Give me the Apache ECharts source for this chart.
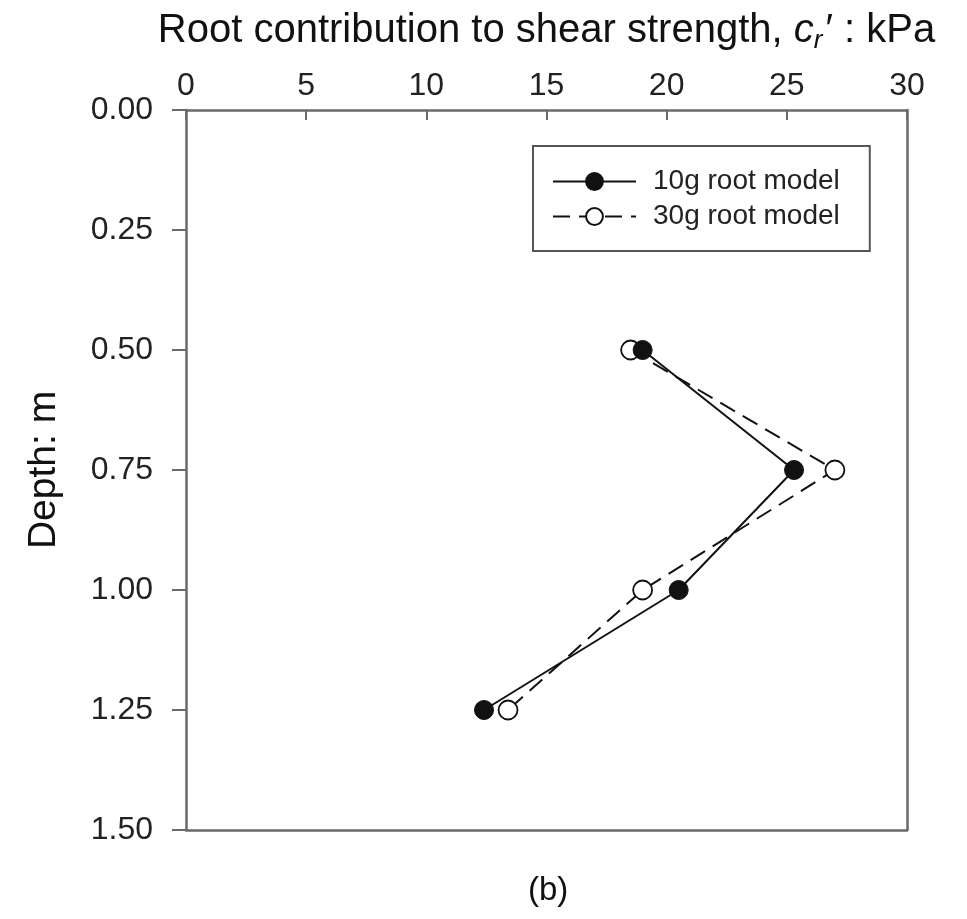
<!DOCTYPE html>
<html>
<head>
<meta charset="utf-8">
<script src="https://cdn.jsdelivr.net/npm/echarts@6/dist/echarts.min.js"></script>
<style>
  html, body { margin: 0; padding: 0; background: #fff; }
  #chart { width: 967px; height: 919px; }
</style>
</head>
<body>
<div id="chart"></div>
<script>
// Depth of each measurement (m)
const depths = [0.50, 0.75, 1.00, 1.25];
// Root contribution to shear strength c_r' (kPa) for each root model
const root10g = [19.0, 25.3, 20.5, 12.4];
const root30g = [18.5, 27.0, 19.0, 13.4];
const seriesNames = ['10g root model', '30g root model'];

const FONT = '"Liberation Sans", Arial, Helvetica, sans-serif';
const AXIS_GREY = '#6a6a6a';
const INK = '#111';

function pairs(xs) {
  return xs.map((x, i) => [x, depths[i]]);
}

const chart = echarts.init(document.getElementById('chart'), null, { renderer: 'canvas' });

// Plain frame lines for the bottom and right sides of the plot box
const frameAxis = {
  axisLabel: { show: false },
  axisTick: { show: false },
  splitLine: { show: false },
  axisLine: { show: true, onZero: false, lineStyle: { color: AXIS_GREY, width: 2.5 } }
};

chart.setOption({
  animation: false,
  backgroundColor: '#fff',
  textStyle: { fontFamily: FONT },
  grid: { left: 186, top: 110, right: 60, bottom: 89, containLabel: false },
  xAxis: [
    {
      type: 'value',
      position: 'top',
      min: 0, max: 30, interval: 5,
      name: '{t|Root contribution to shear strength, }{i|c}{s|r}{t|\u2032 : kPa}',
      nameLocation: 'middle',
      nameGap: 56,
      nameTextStyle: {
        rich: {
          t: { fontFamily: FONT, fontSize: 40, color: INK, lineHeight: 46 },
          i: { fontFamily: FONT, fontSize: 40, fontStyle: 'italic', color: INK, lineHeight: 46 },
          s: { fontFamily: FONT, fontSize: 26, fontStyle: 'italic', color: INK, lineHeight: 46, verticalAlign: 'bottom', padding: [0, 3, 0, 0] }
        }
      },
      axisLine: { show: true, onZero: false, lineStyle: { color: AXIS_GREY, width: 2.5 } },
      axisTick: { show: true, inside: true, length: 10, lineStyle: { color: AXIS_GREY, width: 2 } },
      axisLabel: { fontFamily: FONT, fontSize: 32, color: '#222', margin: 8 },
      splitLine: { show: false }
    },
    Object.assign({ type: 'value', position: 'bottom', min: 0, max: 30 }, frameAxis)
  ],
  yAxis: [
    {
      type: 'value',
      inverse: true,
      min: 0, max: 1.5, interval: 0.25,
      name: 'Depth: m',
      nameLocation: 'middle',
      nameRotate: 90,
      nameGap: 122,
      nameTextStyle: { fontFamily: FONT, fontSize: 39, color: INK },
      axisLine: { show: true, onZero: false, lineStyle: { color: AXIS_GREY, width: 2.5 } },
      axisTick: { show: true, inside: false, length: 14, lineStyle: { color: AXIS_GREY, width: 2 } },
      axisLabel: {
        fontFamily: FONT, fontSize: 32, color: '#222', margin: 33,
        formatter: v => v.toFixed(2)
      },
      splitLine: { show: false }
    },
    Object.assign({ type: 'value', position: 'right', inverse: true, min: 0, max: 1.5 }, frameAxis)
  ],
  legend: {
    orient: 'vertical',
    left: 533,
    top: 146,
    data: seriesNames,
    backgroundColor: '#fff',
    borderColor: '#555',
    borderWidth: 2,
    padding: [20, 30, 19, 19],
    itemWidth: 83,
    itemHeight: 21,
    itemGap: 4,
    textStyle: { fontFamily: FONT, fontSize: 28, color: '#222', lineHeight: 31, padding: [0, 0, 0, 12] }
  },
  series: [
    {
      name: seriesNames[0],
      type: 'line',
      data: pairs(root10g),
      symbol: 'circle',
      symbolSize: 19,
      lineStyle: { color: INK, width: 2 },
      itemStyle: { color: INK, borderColor: INK, borderWidth: 1 },
      z: 3
    },
    {
      name: seriesNames[1],
      type: 'line',
      data: pairs(root30g),
      symbol: 'circle',
      symbolSize: 19,
      lineStyle: { color: INK, width: 2, type: [17, 9] },
      itemStyle: { color: '#fff', borderColor: INK, borderWidth: 1.8 },
      z: 2
    }
  ],
  graphic: [
    {
      type: 'text',
      left: 528,
      top: 874,
      style: { text: '(b)', font: '33px ' + FONT, fill: INK }
    }
  ]
});
</script>
</body>
</html>
